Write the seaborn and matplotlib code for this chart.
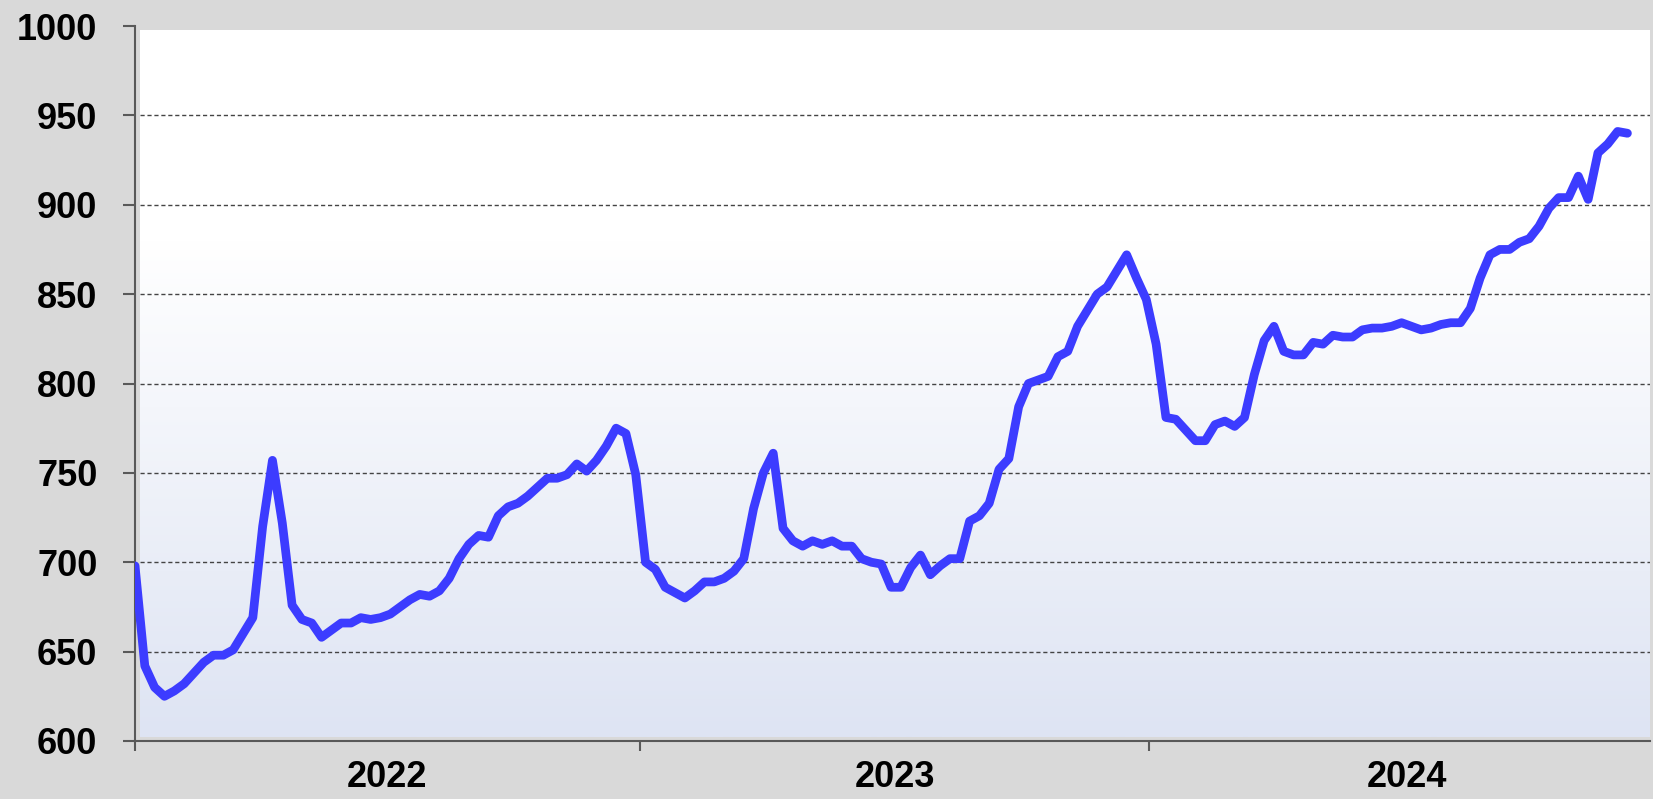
"""
Weekly index 2022-2024 : line chart with gradient plot area (seaborn rebuild)
"""

import numpy as np
import pandas as pd
import matplotlib
matplotlib.use("Agg")
import matplotlib.pyplot as plt
from matplotlib.colors import LinearSegmentedColormap
import seaborn as sns

# weekly values
values = [
    698, 642, 630, 625, 628, 632, 638, 644, 648, 648,
    651, 660, 669, 720, 757, 722, 676, 668, 666, 658,
    662, 666, 666, 669, 668, 669, 671, 675, 679, 682,
    681, 684, 691, 702, 710, 715, 714, 726, 731, 733,
    737, 742, 747, 747, 749, 755, 751, 757, 765, 775,
    772, 749, 700, 696, 686, 683, 680, 684, 689, 689,
    691, 695, 702, 730, 750, 761, 719, 712, 709, 712,
    710, 712, 709, 709, 702, 700, 699, 686, 686, 697,
    704, 693, 698, 702, 702, 723, 726, 733, 752, 758,
    787, 800, 802, 804, 815, 818, 832, 841, 850, 854,
    863, 872, 859, 847, 822, 781, 780, 774, 768, 768,
    777, 779, 776, 781, 805, 824, 832, 818, 816, 816,
    823, 822, 827, 826, 826, 830, 831, 831, 832, 834,
    832, 830, 831, 833, 834, 834, 842, 859, 872, 875,
    875, 879, 881, 888, 898, 904, 904, 916, 903, 929,
    934, 941, 940,
]
weeks = np.arange(len(values))

years = ["2022", "2023", "2024"]
year_starts = [0, 51.4, 103.3]      # tick marks on the category axis
year_centres = [25.7, 77.35, 129.5]  # where the year labels sit

y_ticks = [600, 650, 700, 750, 800, 850, 900, 950, 1000]

df = pd.DataFrame({"week": weeks, "value": values})

sns.set_style("ticks")
plt.rcParams["font.family"] = ["Liberation Sans", "DejaVu Sans"]

W, H = 1653, 799
fig = plt.figure(figsize=(W / 100, H / 100), dpi=100, facecolor="#d9d9d9")

# gradient plot area (slightly inset from the axis lines, like Excel)
bg = fig.add_axes([140 / W, 1 - 737 / H, 1510 / W, (737 - 30) / H], zorder=0)
cmap = LinearSegmentedColormap.from_list(
    "plotarea", [(0.0, "#ffffff"), (0.3, "#ffffff"), (1.0, "#dee4f3")]
)
grad = np.linspace(0, 1, 256).reshape(-1, 1)
bg.imshow(grad, aspect="auto", cmap=cmap, extent=[0, 1, 0, 1], origin="upper")
bg.set_axis_off()

ax = fig.add_axes([135 / W, 1 - 741 / H, (1650 - 135) / W, (741 - 26) / H], zorder=1)
ax.set_facecolor("none")

# dashed gridlines between the axis limits
for lvl in y_ticks[1:-1]:
    ax.axhline(lvl, xmin=0.0035, xmax=1, color="#444444", linewidth=1.0,
               linestyle=(0, (3, 2)), zorder=1)

sns.lineplot(data=df, x="week", y="value", ax=ax, color="#3c3cff",
             linewidth=6.3, solid_joinstyle="round", solid_capstyle="round",
             zorder=3)

ax.set_xlim(0, 154.3)
ax.set_ylim(600, 1000)
ax.set_yticks(y_ticks)
ax.set_yticklabels([str(t) for t in y_ticks], fontsize=26, fontweight="bold",
                   color="black")

ax.set_xticks(year_starts)
ax.set_xticklabels([])
ax.set_xticks(year_centres, minor=True)
ax.set_xticklabels(years, minor=True, fontsize=26, fontweight="bold",
                   color="black")
ax.tick_params(axis="x", which="minor", length=0, pad=14)
ax.tick_params(axis="x", which="major", length=7, width=1.5, color="#595959",
               direction="out")
ax.tick_params(axis="y", length=9, width=1.5, color="#595959", pad=18,
               direction="out")

ax.set_xlabel("")
ax.set_ylabel("")
for side in ["top", "right"]:
    ax.spines[side].set_visible(False)
for side in ["left", "bottom"]:
    ax.spines[side].set_color("#595959")
    ax.spines[side].set_linewidth(1.5)

fig.savefig("out.png", dpi=100, facecolor=fig.get_facecolor())
